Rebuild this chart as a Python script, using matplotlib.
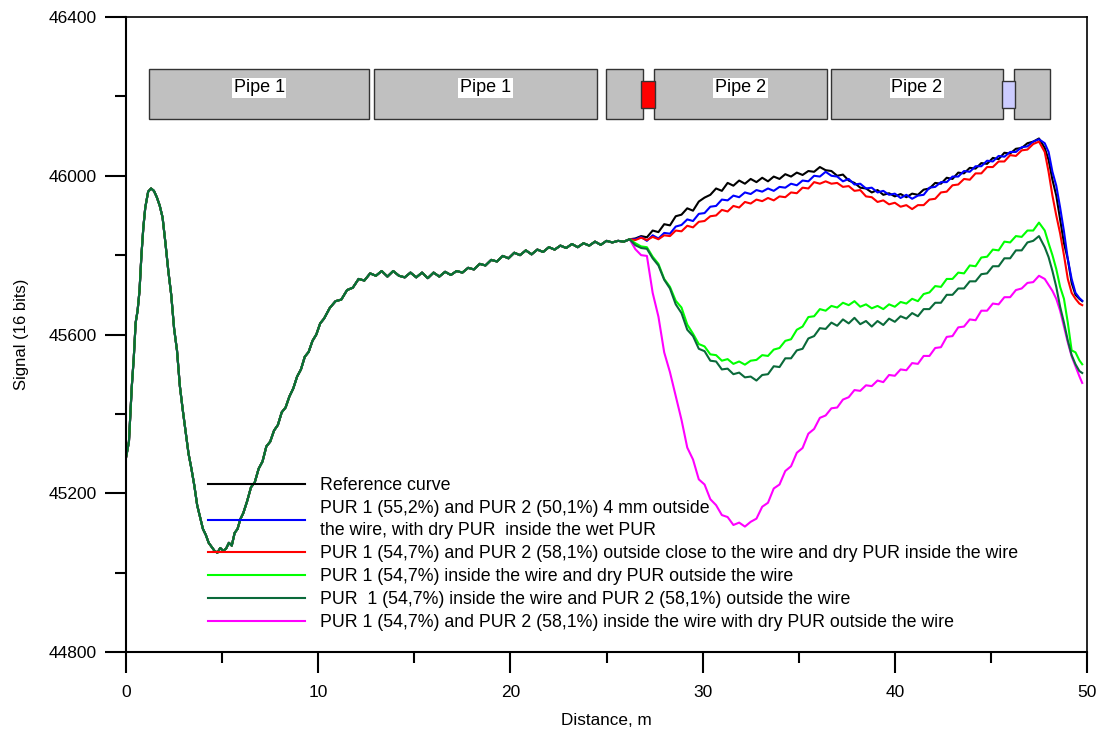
import matplotlib
matplotlib.use("Agg")
import matplotlib.pyplot as plt
from matplotlib.patches import Rectangle
from matplotlib.ticker import MultipleLocator

plt.rcParams['font.family'] = ['Liberation Sans', 'DejaVu Sans']

# shared part of all six curves (they overlap up to ~26 m)
x_base = [0.0, 0.15, 0.3, 0.4, 0.5, 0.6, 0.7, 0.8, 0.9, 1.0, 1.15, 1.3, 1.45, 1.6, 1.75, 1.9,
          2.05, 2.2, 2.35, 2.5, 2.65, 2.8, 2.95, 3.1, 3.25, 3.4, 3.55, 3.7, 3.85, 4.0, 4.15,
          4.3, 4.45, 4.6, 4.75, 4.9, 5.05, 5.2, 5.35, 5.5, 5.65, 5.8, 5.95, 6.1, 6.3, 6.5,
          6.7, 6.9, 7.1, 7.3, 7.5, 7.7, 7.9, 8.1, 8.3, 8.5, 8.7, 8.9, 9.1, 9.3, 9.5, 9.7,
          9.9, 10.1, 10.3, 10.6, 10.9, 11.2, 11.5, 11.8, 12.1, 12.4, 12.7, 13.0, 13.3, 13.6,
          13.9, 14.2, 14.5, 14.8, 15.1, 15.4, 15.7, 16.0, 16.3, 16.6, 16.9, 17.2, 17.5, 17.8,
          18.1, 18.4, 18.7, 19.0, 19.3, 19.6, 19.9, 20.2, 20.5, 20.8, 21.1, 21.4, 21.7, 22.0,
          22.3, 22.6, 22.9, 23.2, 23.5, 23.8, 24.1, 24.4, 24.7, 25.0, 25.3, 25.6, 25.9, 26.2]
y_base = [45290, 45330, 45470, 45540, 45630, 45660, 45710, 45800, 45870, 45920, 45960, 45968,
          45962, 45946, 45925, 45895, 45830, 45760, 45700, 45615, 45560, 45470, 45410, 45355,
          45300, 45262, 45220, 45170, 45140, 45110, 45095, 45075, 45065, 45055, 45050, 45062,
          45055, 45060, 45075, 45068, 45100, 45110, 45135, 45150, 45180, 45215, 45228, 45262,
          45280, 45318, 45330, 45358, 45372, 45404, 45416, 45444, 45464, 45494, 45512, 45544,
          45556, 45584, 45600, 45628, 45640, 45667, 45684, 45688, 45712, 45718, 45740, 45736,
          45754, 45748, 45760, 45746, 45760, 45748, 45744, 45756, 45744, 45756, 45742, 45756,
          45746, 45758, 45750, 45760, 45756, 45768, 45764, 45778, 45774, 45788, 45784, 45798,
          45792, 45806, 45800, 45812, 45802, 45814, 45808, 45820, 45814, 45824, 45818, 45828,
          45820, 45830, 45824, 45834, 45826, 45836, 45832, 45836, 45834, 45840]

# where the curves separate
x_tail = [26.5, 26.8, 27.1, 27.4, 27.7, 28.0, 28.3, 28.6, 28.9, 29.2, 29.5, 29.8, 30.1, 30.4,
          30.7, 31.0, 31.3, 31.6, 31.9, 32.2, 32.5, 32.8, 33.1, 33.4, 33.7, 34.0, 34.3, 34.6,
          34.9, 35.2, 35.5, 35.8, 36.1, 36.4, 36.7, 37.0, 37.3, 37.6, 37.9, 38.2, 38.5, 38.8,
          39.1, 39.4, 39.7, 40.0, 40.3, 40.6, 40.9, 41.2, 41.5, 41.8, 42.1, 42.4, 42.7, 43.0,
          43.3, 43.6, 43.9, 44.2, 44.5, 44.8, 45.1, 45.4, 45.7, 46.0, 46.3, 46.6, 46.9, 47.2,
          47.5, 47.8, 48.0, 48.2, 48.4, 48.6, 48.8, 49.0, 49.2, 49.4, 49.6, 49.75]

ref_tail = [45842, 45848, 45845, 45862, 45858, 45878, 45875, 45898, 45902, 45918,
            45912, 45935, 45945, 45952, 45968, 45962, 45982, 45975, 45988, 45980,
            45992, 45984, 45995, 45986, 45998, 45992, 46004, 45998, 46008, 46002,
            46012, 46010, 46022, 46014, 46012, 46000, 46003, 45988, 45982, 45970,
            45968, 45958, 45964, 45952, 45956, 45948, 45954, 45946, 45955, 45952,
            45965, 45968, 45982, 45980, 45995, 45992, 46008, 46006, 46020, 46018,
            46032, 46030, 46045, 46042, 46058, 46056, 46068, 46070, 46082, 46086,
            46094, 46070, 46040, 45990, 45950, 45890, 45830, 45790, 45730, 45700, 45690, 45684]
blue_tail = [45840, 45846, 45836, 45850, 45842, 45856, 45854, 45872, 45876, 45890,
             45886, 45904, 45906, 45922, 45924, 45940, 45938, 45950, 45946, 45958,
             45954, 45964, 45960, 45968, 45962, 45972, 45970, 45980, 45976, 45988,
             45986, 46000, 45998, 46010, 46000, 45998, 45986, 45992, 45978, 45980,
             45968, 45970, 45958, 45962, 45952, 45955, 45944, 45952, 45942, 45950,
             45952, 45970, 45972, 45984, 45984, 45998, 45998, 46012, 46010, 46024,
             46024, 46038, 46036, 46050, 46048, 46060, 46060, 46072, 46074, 46086,
             46092, 46082, 46060, 46010, 45975, 45920, 45860, 45790, 45740, 45705, 45692, 45685]
red_tail = [45838, 45844, 45838, 45846, 45840, 45850, 45848, 45862, 45860, 45874,
            45870, 45884, 45886, 45898, 45900, 45914, 45910, 45924, 45920, 45934,
            45930, 45940, 45936, 45944, 45938, 45948, 45946, 45958, 45956, 45970,
            45968, 45984, 45980, 45986, 45980, 45982, 45972, 45974, 45962, 45964,
            45948, 45946, 45934, 45938, 45928, 45932, 45922, 45926, 45916, 45926,
            45926, 45940, 45942, 45958, 45960, 45976, 45978, 45992, 45990, 46006,
            46006, 46022, 46022, 46036, 46036, 46052, 46050, 46064, 46066, 46080,
            46086, 46060, 46010, 45950, 45900, 45855, 45800, 45740, 45705, 45690, 45678, 45674]
lime_tail = [45830, 45822, 45820, 45796, 45778, 45740, 45720, 45685, 45668, 45625,
             45602, 45576, 45570, 45550, 45548, 45534, 45538, 45526, 45532, 45524,
             45534, 45536, 45548, 45546, 45562, 45566, 45584, 45588, 45612, 45620,
             45644, 45646, 45664, 45660, 45672, 45668, 45680, 45674, 45684, 45670,
             45676, 45666, 45672, 45664, 45676, 45670, 45682, 45678, 45690, 45684,
             45702, 45706, 45722, 45720, 45740, 45740, 45756, 45754, 45774, 45772,
             45794, 45796, 45814, 45812, 45834, 45832, 45848, 45846, 45862, 45862,
             45882, 45862, 45830, 45800, 45765, 45720, 45690, 45630, 45560, 45555, 45535, 45525]
dkgreen_tail = [45825, 45818, 45816, 45792, 45774, 45738, 45716, 45676, 45654, 45612,
                45596, 45564, 45558, 45534, 45532, 45512, 45514, 45500, 45504, 45492,
                45494, 45484, 45498, 45500, 45520, 45518, 45540, 45540, 45560, 45564,
                45590, 45596, 45616, 45614, 45630, 45622, 45638, 45628, 45642, 45626,
                45634, 45620, 45634, 45624, 45640, 45632, 45646, 45640, 45654, 45646,
                45664, 45664, 45680, 45680, 45700, 45700, 45716, 45716, 45734, 45734,
                45752, 45754, 45772, 45772, 45792, 45792, 45812, 45812, 45832, 45836,
                45848, 45820, 45795, 45760, 45720, 45670, 45630, 45585, 45548, 45525, 45508, 45503]
magenta_tail = [45815, 45800, 45798, 45705, 45645, 45555, 45505, 45445, 45385, 45315,
                45285, 45235, 45222, 45185, 45170, 45145, 45140, 45120, 45126, 45116,
                45128, 45136, 45166, 45176, 45212, 45222, 45256, 45268, 45302, 45314,
                45350, 45362, 45390, 45396, 45414, 45416, 45436, 45442, 45460, 45458,
                45472, 45470, 45484, 45480, 45498, 45496, 45512, 45510, 45528, 45526,
                45546, 45546, 45566, 45568, 45594, 45596, 45618, 45620, 45638, 45636,
                45660, 45660, 45678, 45676, 45694, 45694, 45712, 45716, 45730, 45732,
                45748, 45740, 45725, 45710, 45690, 45660, 45620, 45580, 45545, 45520, 45495, 45478]

labels = [
    "Reference curve",
    "PUR 1 (55,2%) and PUR 2 (50,1%) 4 mm outside\nthe wire, with dry PUR  inside the wet PUR",
    "PUR 1 (54,7%) and PUR 2 (58,1%) outside close to the wire and dry PUR inside the wire",
    "PUR 1 (54,7%) inside the wire and dry PUR outside the wire",
    "PUR  1 (54,7%) inside the wire and PUR 2 (58,1%) outside the wire",
    "PUR 1 (54,7%) and PUR 2 (58,1%) inside the wire with dry PUR outside the wire",
]
colors = ["black", "#0000ff", "#ff0000", "#00ff00", "#0a6a3a", "#ff00ff"]
tails = [ref_tail, blue_tail, red_tail, lime_tail, dkgreen_tail, magenta_tail]

# pipe schematic: (x0, x1, label)
pipes = [(1.2, 12.65, "Pipe 1"), (12.9, 24.5, "Pipe 1"), (24.97, 26.9, ""),
         (27.47, 36.47, "Pipe 2"), (36.68, 45.63, "Pipe 2"), (46.2, 48.07, "")]
pipe_y = (46143, 46270)
joints = [(26.8, 27.52, "#ff0000"), (45.58, 46.25, "#ccccff")]
joint_y = (46172, 46240)

fig = plt.figure(figsize=(10.99, 7.31), dpi=100)
ax = fig.add_axes([0.1147, 0.1081, 0.8744, 0.8686])

handles = [None] * 6
order = [5, 0, 1, 2, 3, 4]
for i in order:
    ln, = ax.plot(x_base + x_tail, y_base + tails[i], color=colors[i], lw=1.5, label=labels[i])
    handles[i] = ln

for x0, x1, name in pipes:
    ax.add_patch(Rectangle((x0, pipe_y[0]), x1 - x0, pipe_y[1] - pipe_y[0],
                           facecolor="#c0c0c0", edgecolor="#333333", lw=1.0, zorder=3))
    if name:
        ax.text((x0 + x1) / 2, 46222, name, ha="center", va="center", fontsize=13, zorder=5,
                bbox=dict(facecolor="white", edgecolor="none", pad=1.2))
for x0, x1, c in joints:
    ax.add_patch(Rectangle((x0, joint_y[0]), x1 - x0, joint_y[1] - joint_y[0],
                           facecolor=c, edgecolor="#333333", lw=1.0, zorder=4))

leg = ax.legend(handles=handles, labels=labels, loc="upper left",
                bbox_to_anchor=(0.0853, 0.2756), frameon=False, fontsize=12.8,
                handlelength=5.45, handletextpad=0.85, borderpad=0, borderaxespad=0,
                labelspacing=0.34)
leg.get_texts()[1].set_linespacing(1.38)

ax.set_xlim(0, 50)
ax.set_ylim(44800, 46400)
ax.xaxis.set_major_locator(MultipleLocator(10))
ax.xaxis.set_minor_locator(MultipleLocator(5))
ax.yaxis.set_major_locator(MultipleLocator(400))
ax.yaxis.set_minor_locator(MultipleLocator(200))
ax.tick_params(which="major", direction="out", length=15, width=1.5, labelsize=12.5)
ax.tick_params(axis="x", which="major", pad=9)
ax.tick_params(axis="y", which="major", pad=6)
ax.tick_params(which="minor", direction="out", length=8, width=1.5)
for s in ax.spines.values():
    s.set_linewidth(1.5)
ax.spines["top"].set_linewidth(1.2)
ax.spines["right"].set_linewidth(1.2)

ax.set_xlabel("Distance, m", fontsize=12.3, labelpad=9)
ax.set_ylabel("Signal (16 bits)", fontsize=12, labelpad=14)

fig.savefig("out.png", dpi=100)
